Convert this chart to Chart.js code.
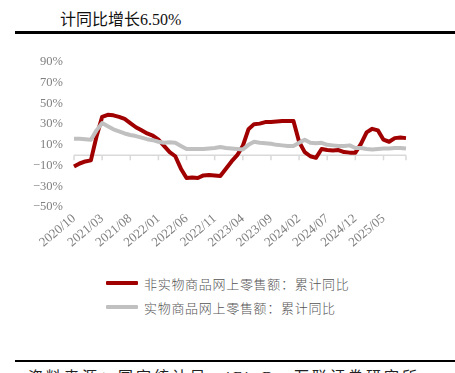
<!DOCTYPE html>
<html>
<head>
<meta charset="utf-8">
<script src="https://cdn.jsdelivr.net/npm/chart.js@4/dist/chart.umd.min.js"></script>
<style>
  html, body { margin: 0; padding: 0; background: #fff; }
  body { width: 455px; height: 373px; position: relative; overflow: hidden; font-family: "Liberation Serif", "Noto Sans CJK SC", serif; }
  .title { position: absolute; left: 60px; top: 6px; font-size: 16px; color: #111; white-space: nowrap; }
  .rule { position: absolute; left: 15px; right: 0; background: #000; }
  .source { position: absolute; left: 28px; top: 365px; font-size: 15px; color: #222; white-space: nowrap; letter-spacing: 3px; }
  #chartBox { position: absolute; left: 0; top: 0; width: 455px; height: 265px; }
  #legend { position: absolute; left: 106px; top: 271px; }
  .item { display: flex; align-items: center; height: 24px; }
  .swatch { width: 32px; height: 4px; margin-right: 6px; border-radius: 1px; }
  .label { font-family: "Noto Sans CJK SC", sans-serif; font-size: 13px; font-weight: 300; color: #555; letter-spacing: 0.7px; white-space: nowrap; }
</style>
</head>
<body>
<div class="title">计同比增长6.50%</div>
<div class="rule" style="top:31px;height:3px;"></div>
<div id="chartBox"><canvas id="chart"></canvas></div>
<div id="legend"></div>
<div class="rule" style="top:360px;height:2px;"></div>
<div class="source">资料来源：国家统计局，iFinD，万联证券研究所</div>
<script>
// months 2020/10 .. 2025/09
const months = [];
for (let y = 2020, m = 10; !(y === 2025 && m === 10); m++) {
  if (m > 12) { m = 1; y++; }
  months.push(y + '/' + String(m).padStart(2, '0'));
}

const seriesNames = ['非实物商品网上零售额：累计同比', '实物商品网上零售额：累计同比'];
const seriesColors = ['#a00000', '#c0c0c0'];

const nonPhysical = [
  -11, -8, -6, -5, 18, 37, 39, 38.5, 37, 35, 31, 27,
  24, 21, 19, 15, 9, 3, -1, -13, -22, -21.5, -22, -19.5,
  -19, -19.5, -20, -13, -6, 0, 9, 25, 30, 30.5, 32, 32,
  32.5, 33, 33, 33, 13, 3, -1, -2.5, 6, 5, 4.5, 5,
  3, 2.5, 2.5, 11, 22, 25.5, 24, 15, 13, 16.5, 17, 16.5
];
const physical = [
  16, 16, 15.5, 15, 24, 31, 28, 25, 23, 21, 19.5, 18.5,
  17, 15.5, 14.5, 13, 12, 12.5, 12, 9, 6, 6, 6, 6,
  6.5, 7, 8, 7, 6.5, 6, 5.5, 10, 13, 12, 11.5, 11,
  10, 9.5, 9, 9, 12, 15, 12, 11.5, 12, 10, 9.5, 9,
  9, 9.5, 7, 7, 6, 5.5, 6, 6.5, 6.5, 7, 7, 6.5
];

const yTicks = [-50, -30, -10, 10, 30, 50, 70, 90];

const axisColor = '#d9d9d9';
const tickColor = '#808080';

// zero line with tick marks, drawn under the series
const zeroAxis = {
  id: 'zeroAxis',
  beforeDatasetsDraw(chart) {
    const { ctx, scales: { x, y } } = chart;
    const y0 = y.getPixelForValue(0);
    ctx.save();
    ctx.strokeStyle = axisColor;
    ctx.lineWidth = 1.5;
    ctx.beginPath();
    ctx.moveTo(x.left, y0);
    ctx.lineTo(x.right, y0);
    for (let i = 0; i < months.length; i += 5) {
      const px = x.getPixelForValue(i);
      ctx.moveTo(px, y0);
      ctx.lineTo(px, y0 + 5);
    }
    ctx.moveTo(x.right, y0);
    ctx.lineTo(x.right, y0 + 5);
    ctx.stroke();
    ctx.restore();
  }
};

new Chart(document.getElementById('chart'), {
  type: 'line',
  data: {
    labels: months,
    datasets: [
      { label: seriesNames[0], data: nonPhysical, borderColor: seriesColors[0], borderWidth: 4, order: 1 },
      { label: seriesNames[1], data: physical, borderColor: seriesColors[1], borderWidth: 4, order: 0 }
    ]
  },
  options: {
    responsive: true,
    maintainAspectRatio: false,
    animation: false,
    elements: {
      point: { radius: 0 },
      line: { tension: 0, borderJoinStyle: 'round', borderCapStyle: 'butt' }
    },
    layout: { padding: { top: 62, right: 49, left: 0, bottom: 0 } },
    scales: {
      x: {
        offset: false,
        grid: { display: false, drawTicks: false },
        border: { display: false },
        afterFit: (s) => { s.height = 58; },
        ticks: {
          autoSkip: false,
          maxRotation: 40,
          minRotation: 40,
          padding: 4,
          color: tickColor,
          font: { family: 'Liberation Serif', size: 13 },
          callback: (v, i) => (i % 5 === 0 ? months[i] : '')
        }
      },
      y: {
        min: -50,
        max: 90,
        grid: { display: false, drawTicks: false },
        border: { display: false },
        afterBuildTicks: (s) => { s.ticks = yTicks.map(v => ({ value: v })); },
        afterFit: (s) => { s.width = 74; },
        ticks: {
          padding: 11,
          color: tickColor,
          font: { family: 'Liberation Serif', size: 12.5 },
          callback: (v) => (v < 0 ? '−' + Math.abs(v) : v) + '%'
        }
      }
    },
    plugins: {
      legend: { display: false },
      tooltip: { enabled: false }
    }
  },
  plugins: [zeroAxis]
});

// legend
const legend = document.getElementById('legend');
seriesNames.forEach((name, i) => {
  const row = document.createElement('div');
  row.className = 'item';
  const sw = document.createElement('div');
  sw.className = 'swatch';
  sw.style.background = seriesColors[i];
  const tx = document.createElement('span');
  tx.className = 'label';
  tx.textContent = name;
  row.appendChild(sw);
  row.appendChild(tx);
  legend.appendChild(row);
});
</script>
</body>
</html>
